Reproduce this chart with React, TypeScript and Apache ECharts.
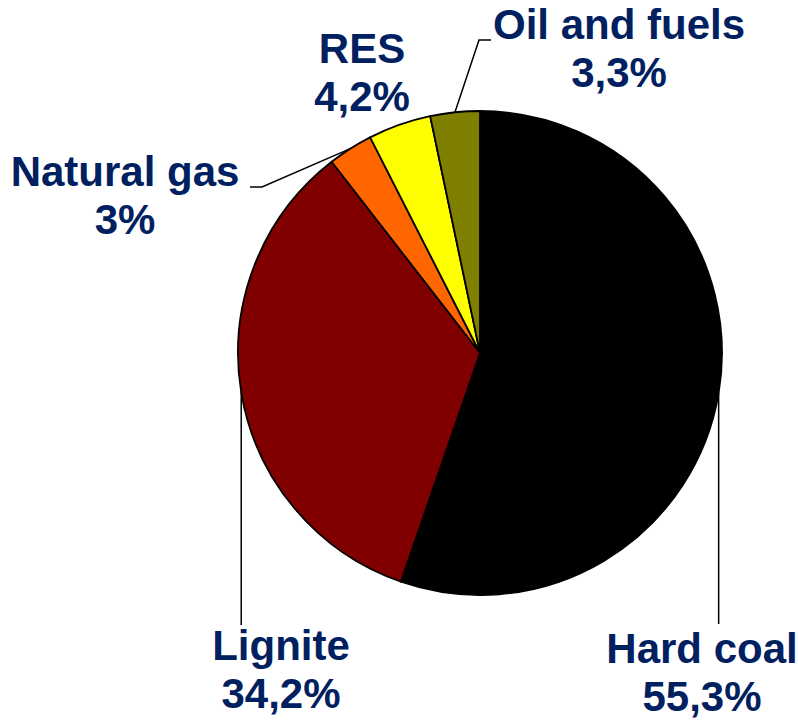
import React, { useEffect, useRef } from "react";
import * as echarts from "echarts";

const categories = ["Hard coal", "Lignite", "Natural gas", "RES", "Oil and fuels"];
const shares = [55.3, 34.2, 3, 4.2, 3.3];
const sliceColors = ["#000000", "#800000", "#FF6600", "#FFFF00", "#808000"];
// label block centres (x, y)
const labelPos: number[][] = [
  [702, 672],
  [281, 669],
  [125, 195],
  [362, 72],
  [619, 48],
];
const showLine = [true, true, true, false, true];

export default function App() {
  const ref = useRef<HTMLDivElement>(null);
  useEffect(() => {
    if (!ref.current) return;
    const chart = echarts.init(ref.current, null, { renderer: "svg" });
    const data = categories.map((name, i) => ({
      name,
      value: shares[i],
      itemStyle: { color: sliceColors[i] },
      labelLine: { show: showLine[i] },
    }));
    chart.setOption({
      animation: false,
      backgroundColor: "#ffffff",
      series: [
        {
          type: "pie",
          center: [480, 353],
          radius: 242,
          startAngle: 90,
          clockwise: true,
          avoidLabelOverlap: false,
          data,
          itemStyle: { borderColor: "#000000", borderWidth: 1.8 },
          emphasis: { disabled: true },
          label: {
            show: true,
            position: "outside",
            color: "#002060",
            fontFamily: "'Liberation Sans', Arial, sans-serif",
            fontWeight: "bold",
            fontSize: 42,
            lineHeight: 48,
            align: "center",
            formatter: (p: any) =>
              p.name + "\n" + String(p.value).replace(".", ",") + "%",
          },
          labelLine: {
            show: true,
            length: 10,
            length2: 10,
            lineStyle: { color: "#000000", width: 1.5 },
          },
          labelLayout: (params: any) => {
            const i = params.dataIndex;
            const [lx, ly] = labelPos[i];
            const pts = params.labelLinePoints;
            let linePts: number[][] | undefined;
            if (pts && pts.length) {
              const s = pts[0];
              if (i === 0) linePts = [s, [s[0], 624]];
              else if (i === 1) linePts = [s, [s[0], 625]];
              else if (i === 2) linePts = [s, [262, 187], [250, 187]];
              else if (i === 4) linePts = [s, [479, 40], [491, 40]];
            }
            return {
              x: lx,
              y: ly,
              align: "center",
              verticalAlign: "middle",
              labelLinePoints: linePts,
            };
          },
        },
      ],
    });
    return () => chart.dispose();
  }, []);
  return (
    <div
      ref={ref}
      style={{ position: "fixed", left: 0, top: 0, width: 798, height: 721 }}
    />
  );
}
